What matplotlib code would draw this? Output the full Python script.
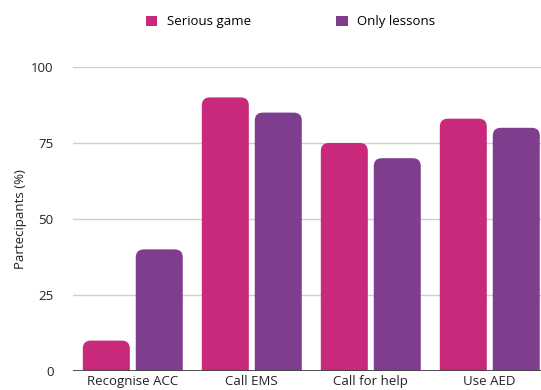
import matplotlib.pyplot as plt
from matplotlib.patches import FancyBboxPatch, Patch

categories = ["Recognise ACC", "Call EMS", "Call for help", "Use AED"]
serious_game = [10, 90, 75, 83]
only_lessons = [40, 85, 70, 80]
series_names = ["Serious game", "Only lessons"]
colors = ["#C8297A", "#7F3D8E"]

plt.rcParams['font.family'] = ['Open Sans', 'DejaVu Sans']

fig = plt.figure(figsize=(5.41, 3.9), dpi=100)
ax = fig.add_axes([73 / 541, 19 / 390, 476 / 541, 304 / 390])

width = 0.395
offsets = [-0.22, 0.225]
px_x = 119.0
px_y = 3.04
radius = 8 / px_x

for values, off, col in zip([serious_game, only_lessons], offsets, colors):
    for i, v in enumerate(values):
        x0 = i + off - width / 2
        box = FancyBboxPatch((x0, -5), width, v + 5,
                             boxstyle=f"round,pad=0,rounding_size={radius}",
                             mutation_aspect=px_x / px_y,
                             facecolor=col, edgecolor="none", zorder=3)
        ax.add_patch(box)

ax.set_xlim(-0.5, 3.5)
ax.set_ylim(0, 100)
ax.set_yticks([0, 25, 50, 75, 100])
ax.set_xticks(range(len(categories)))
ax.set_xticklabels(categories)
ax.grid(axis="y", color="#d0d0d0", linewidth=1, zorder=0)
ax.axhline(0, color="#444444", linewidth=1.3, zorder=4)
for s in ax.spines.values():
    s.set_visible(False)
ax.tick_params(axis="both", length=0, labelsize=9.5, colors="#222222")
ax.tick_params(axis="y", pad=14)
ax.tick_params(axis="x", pad=3)
ax.set_ylabel("Partecipants (%)", fontsize=9.5, color="#222222", labelpad=3)

handles = [Patch(facecolor=c, edgecolor="none") for c in colors]
fig.legend(handles, series_names, loc="center", bbox_to_anchor=(0.537, 0.944),
           ncol=2, frameon=False, fontsize=9.5, handlelength=0.85,
           handleheight=0.85, columnspacing=6.5, handletextpad=0.7)

fig.savefig("out.png", dpi=100)
